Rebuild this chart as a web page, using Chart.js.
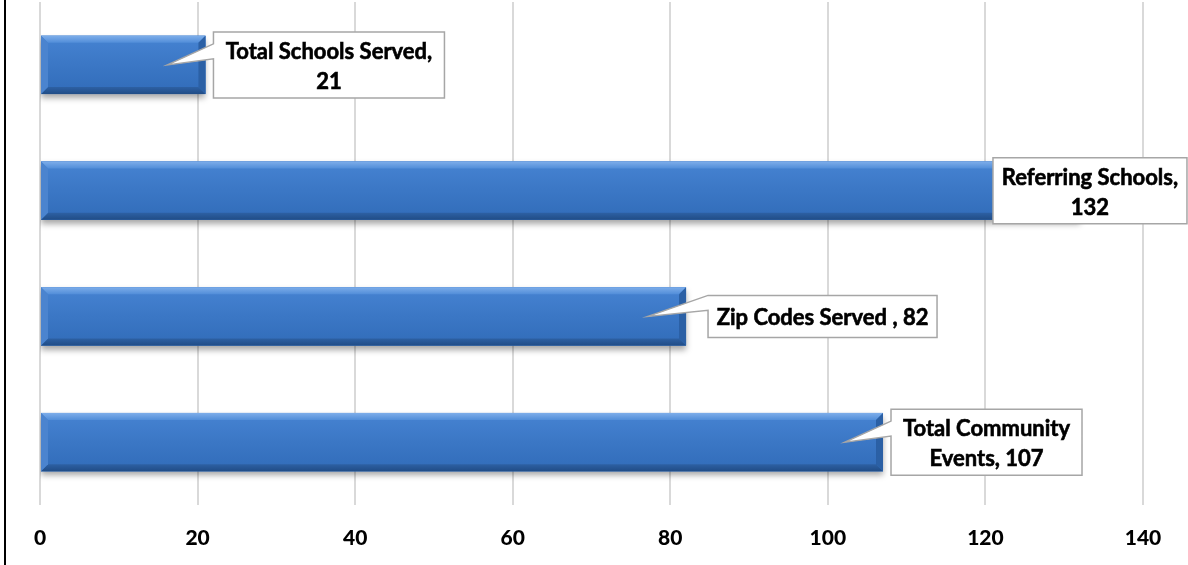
<!DOCTYPE html>
<html>
<head>
<meta charset="utf-8">
<script src="https://cdn.jsdelivr.net/npm/chart.js@4.4.0/dist/chart.umd.min.js"></script>
<style>
  html, body { margin: 0; padding: 0; background: #fff; }
  #wrap { width: 1188px; height: 565px; position: relative; }
</style>
</head>
<body>
<div id="wrap"><canvas id="myChart" width="1188" height="565"></canvas></div>
<script>
'use strict';

/* Chart data */
const categories = [
    'Total Schools Served',
    'Referring Schools',
    'Zip Codes Served ',
    'Total Community Events'
];
const values = [21, 132, 82, 107];
const axisMin = 0;
const axisMax = 140;
const axisStep = 20;

/* Callout boxes: offset from bar end and box width (px) */
const callouts = [
    { dx: 8, w: 231 },
    { dx: -87, w: 194 },
    { dx: 22, w: 229 },
    { dx: 8, w: 191 }
];

const FONT = 'Lato, "Open Sans", sans-serif';
const labelFont = 'bold 22px ' + FONT;

/* Wrap label text into lines for a given width */
function wrapText(ctx, text, maxWidth) {
    const words = text.split(' ');
    const lines = [];
    let line = '';
    words.forEach(function(word) {
        const test = line ? line + ' ' + word : word;
        if (line && ctx.measureText(test).width > maxWidth) {
            lines.push(line);
            line = word;
        } else {
            line = test;
        }
    });
    if (line) lines.push(line);
    return lines;
}

/* Left frame line */
const framePlugin = {
    id: 'frame',
    beforeDraw(chart) {
        const ctx = chart.ctx;
        ctx.save();
        ctx.fillStyle = '#000';
        ctx.fillRect(4, 0, 2, chart.height);
        ctx.restore();
    }
};

/* Soft shadow under bars, then bevelled face on top */
const bevelPlugin = {
    id: 'bevel',
    beforeDatasetsDraw(chart) {
        const ctx = chart.ctx;
        ctx.save();
        ctx.shadowColor = 'rgba(0, 0, 0, 0.35)';
        ctx.shadowBlur = 6;
        ctx.shadowOffsetY = 4;
    },
    afterDatasetsDraw(chart) {
        const ctx = chart.ctx;
        ctx.restore();
        const meta = chart.getDatasetMeta(0);
        meta.data.forEach(function(bar) {
            const L = Math.min(bar.base, bar.x);
            const R = Math.max(bar.base, bar.x);
            const T = bar.y - bar.height / 2;
            const B = bar.y + bar.height / 2;
            const b = 7;

            ctx.save();
            // face
            const g = ctx.createLinearGradient(0, T, 0, B);
            g.addColorStop(0, '#4683d2');
            g.addColorStop(0.5, '#3b77c5');
            g.addColorStop(1, '#316cb9');
            ctx.fillStyle = g;
            ctx.fillRect(L, T, R - L, B - T);

            // top bevel
            const gt = ctx.createLinearGradient(0, T, 0, T + b);
            gt.addColorStop(0, '#7eaeea');
            gt.addColorStop(1, '#528ed9');
            ctx.fillStyle = gt;
            ctx.beginPath();
            ctx.moveTo(L, T); ctx.lineTo(R, T); ctx.lineTo(R - b, T + b); ctx.lineTo(L + b, T + b);
            ctx.closePath(); ctx.fill();

            // bottom bevel
            const gb = ctx.createLinearGradient(0, B - b, 0, B);
            gb.addColorStop(0, '#2d60a3');
            gb.addColorStop(1, '#204c86');
            ctx.fillStyle = gb;
            ctx.beginPath();
            ctx.moveTo(L, B); ctx.lineTo(R, B); ctx.lineTo(R - b, B - b); ctx.lineTo(L + b, B - b);
            ctx.closePath(); ctx.fill();

            // left bevel
            ctx.fillStyle = '#4b84cf';
            ctx.beginPath();
            ctx.moveTo(L, T); ctx.lineTo(L + b, T + b); ctx.lineTo(L + b, B - b); ctx.lineTo(L, B);
            ctx.closePath(); ctx.fill();

            // right bevel
            ctx.fillStyle = '#2b60a5';
            ctx.beginPath();
            ctx.moveTo(R, T); ctx.lineTo(R - b, T + b); ctx.lineTo(R - b, B - b); ctx.lineTo(R, B);
            ctx.closePath(); ctx.fill();
            ctx.restore();
        });
    }
};

/* Callout data labels with a pointer into the bar */
const calloutPlugin = {
    id: 'callouts',
    afterDatasetsDraw(chart) {
        const ctx = chart.ctx;
        const meta = chart.getDatasetMeta(0);
        ctx.save();
        ctx.font = labelFont;
        meta.data.forEach(function(bar, i) {
            const c = callouts[i];
            const text = categories[i] + ', ' + values[i];
            const lines = wrapText(ctx, text, c.w - 4);
            const h = lines.length === 1 ? 42 : 66;
            const left = bar.x + c.dx;
            const top = bar.y - h / 2;

            const tipX = bar.x - 38;
            const tipY = bar.y;

            ctx.fillStyle = '#fff';
            ctx.strokeStyle = '#a6a6a6';
            ctx.lineWidth = 1.5;
            ctx.beginPath();
            if (tipX < left) {
                const y2 = Math.max(top + 10, tipY - 6);
                const y1 = Math.max(top, y2 - 15);
                ctx.moveTo(left, top);
                ctx.lineTo(left + c.w, top);
                ctx.lineTo(left + c.w, top + h);
                ctx.lineTo(left, top + h);
                ctx.lineTo(left, y2);
                ctx.lineTo(tipX, tipY);
                ctx.lineTo(left, y1);
                ctx.closePath();
            } else {
                ctx.rect(left, top, c.w, h);
            }
            ctx.fill();
            ctx.stroke();

            // slightly heavier text
            ctx.fillStyle = '#000';
            ctx.strokeStyle = '#000';
            ctx.lineWidth = 0.6;
            ctx.textAlign = 'center';
            ctx.textBaseline = 'middle';
            const lh = 30;
            const startY = bar.y - (lines.length - 1) * lh / 2 + 2;
            lines.forEach(function(line, k) {
                ctx.fillText(line, left + c.w / 2, startY + k * lh);
                ctx.strokeText(line, left + c.w / 2, startY + k * lh);
            });
        });
        ctx.restore();
    }
};

const data = {
    labels: categories,
    datasets: [{
        data: values,
        backgroundColor: '#3b77c5',
        borderWidth: 0,
        categoryPercentage: 1,
        barPercentage: 0.465
    }]
};

const config = {
    type: 'bar',
    data: data,
    options: {
        indexAxis: 'y',
        responsive: false,
        animation: false,
        devicePixelRatio: 1,
        layout: {
            padding: { left: 40, right: 45, top: 2, bottom: 0 }
        },
        plugins: {
            legend: { display: false },
            tooltip: { enabled: false }
        },
        scales: {
            x: {
                min: axisMin,
                max: axisMax,
                border: { display: false },
                afterFit(scale) {
                    scale.height = 60;
                },
                grid: {
                    color: '#d9d9d9',
                    lineWidth: 2,
                    drawTicks: false
                },
                ticks: {
                    stepSize: axisStep,
                    padding: 21,
                    color: '#000',
                    font: { family: FONT, size: 21, weight: '900' }
                }
            },
            y: {
                display: false,
                grid: { display: false }
            }
        }
    },
    plugins: [framePlugin, bevelPlugin, calloutPlugin]
};

const myChart = new Chart(document.getElementById('myChart'), config);
</script>
</body>
</html>
